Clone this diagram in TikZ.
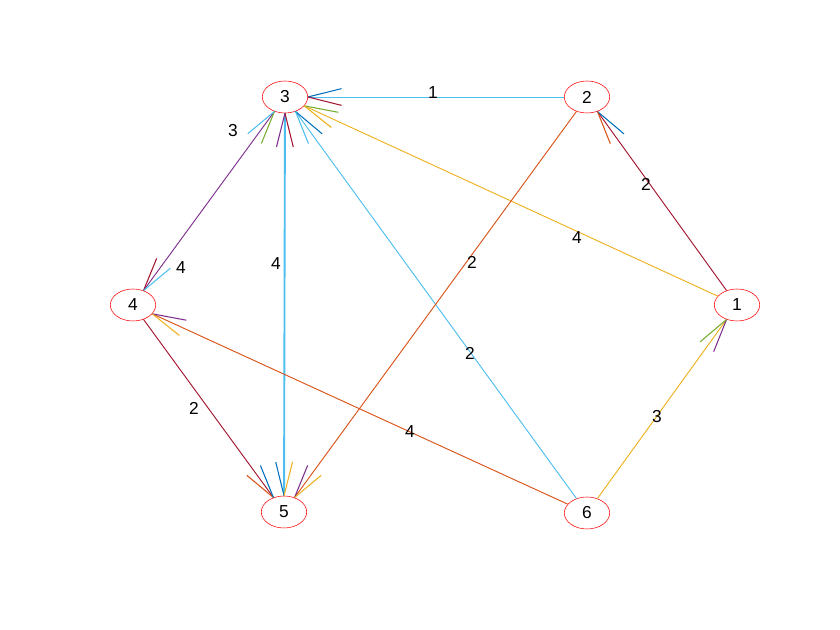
\documentclass[tikz,border=0pt]{standalone}
\usepackage{fontspec}
\setmainfont{Liberation Sans}
\usetikzlibrary{calc}
\definecolor{mb}{rgb}{0,.447,.741}
\definecolor{mo}{rgb}{.85,.325,.098}
\definecolor{my}{rgb}{.929,.694,.125}
\definecolor{mp}{rgb}{.494,.184,.556}
\definecolor{mg}{rgb}{.466,.674,.188}
\definecolor{ms}{rgb}{.301,.745,.933}
\definecolor{mm}{rgb}{.635,.078,.184}
\tikzset{vert/.style={draw=red,ellipse,minimum width=34pt,minimum height=24pt,inner sep=0pt,font=\fontsize{13}{13}\selectfont},
  elab/.style={font=\fontsize{13}{13}\selectfont,inner sep=1pt},
  edge/.style={line width=0.7pt}}
\usetikzlibrary{shapes.geometric}
\newcommand{\hd}[4]{%
  \path (#2) -- (#1) coordinate[pos=1] (tb);
  \draw[#3,line width=0.8pt] (tb) -- ($(tb)!26pt!14:(#2)$);
  \draw[#4,line width=0.8pt] (tb) -- ($(tb)!26pt!-14:(#2)$);}
\begin{document}
\begin{tikzpicture}[x=0.75pt,y=-0.75pt]
\useasboundingbox (0,0) rectangle (840,630);
\node[vert] (n3) at (285,97) {3};
\node[vert] (n2) at (587,97) {2};
\node[vert] (n1) at (737,305) {1};
\node[vert] (n4) at (133,305) {4};
\node[vert] (n5) at (284,512) {5};
\node[vert] (n6) at (587,513) {6};
\draw[edge,ms] (n2) -- (n3);
\draw[edge,mm] (n1) -- (n2);
\draw[edge,my] (n1) -- (n3);
\draw[edge,my] (n6) -- (n1);
\draw[edge,ms] (n6) -- (n3);
\draw[edge,mo] (n2) -- (n5);
\draw[edge,ms,line width=1.4pt] (n3) -- (n5);
\draw[edge,mp] (n3) -- (n4);
\draw[edge,mm] (n4) -- (n5);
\draw[edge,mo] (n6) -- (n4);
\hd{n3}{n2}{mb}{mm}
\hd{n3}{n1}{mg}{my}
\hd{n3}{n6}{mb}{ms}
\hd{n3}{n4}{mg}{ms}
\hd{n3}{n5}{mm}{mp}
\hd{n2}{n1}{mb}{mo}
\hd{n1}{n6}{mp}{mg}
\hd{n4}{n3}{mm}{ms}
\hd{n4}{n6}{mp}{my}
\hd{n5}{n3}{mb}{my}
\hd{n5}{n4}{mo}{mb}
\hd{n5}{n2}{mp}{my}
\node[elab] (l1) at (433,93) {1};
\node[elab] (l2) at (646,184) {2};
\node[elab] (l3) at (577,238) {4};
\node[elab] (l4) at (657,417) {3};
\node[elab] (l5) at (470,353) {2};
\node[elab] (l6) at (472,262) {2};
\node[elab] (l7) at (276,264) {4};
\node[elab] (l8) at (181,268) {4};
\node[elab] (l9) at (233,131) {3};
\node[elab] (l10) at (194,408) {2};
\node[elab] (l11) at (410,432) {4};
\end{tikzpicture}
\end{document}
